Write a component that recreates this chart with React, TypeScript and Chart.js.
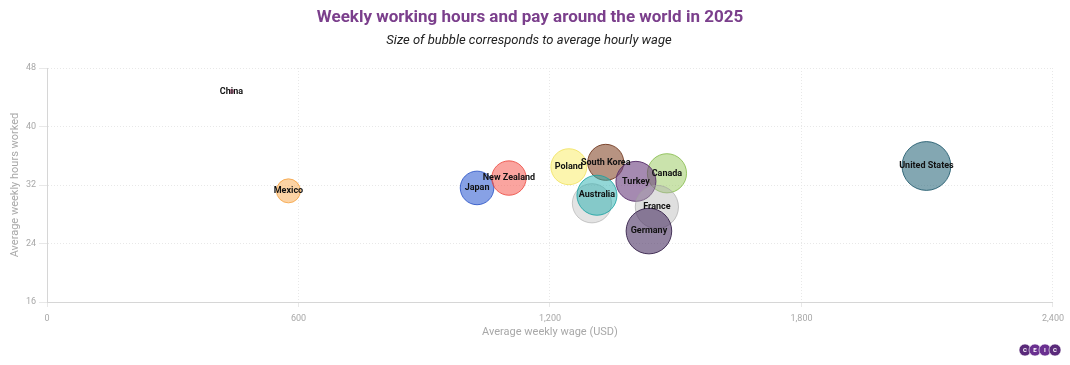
import React, { useEffect, useRef } from "react";
import { Chart, registerables } from "chart.js";
Chart.register(...registerables);

const titleText = "Weekly working hours and pay around the world in 2025";
const subtitleText = "Size of bubble corresponds to average hourly wage";
const xTitle = "Average weekly wage (USD)";
const yTitle = "Average weekly hours worked";

const countries = ["China", "Mexico", "Japan", "New Zealand", "Poland", "South Korea", "Canada", "Turkey", "", "Australia", "France", "Germany", "United States"];
const weeklyWage = [440, 576, 1026, 1102, 1245, 1333, 1479, 1405, 1300, 1312, 1455, 1436, 2098];
const weeklyHours = [44.8, 31.2, 31.6, 32.95, 34.5, 35.1, 33.6, 32.5, 29.5, 30.6, 29.0, 25.7, 34.6];
const hourlyWage = [5, 30, 42, 43, 45, 45, 49, 50, 49, 50, 54, 57, 61];

const xTicks = [0, 600, 1200, 1800, 2400];
const yTicks = [16, 24, 32, 40, 48];

const fills = [
  "rgba(200,60,120,0.4)",
  "rgba(250,175,90,0.55)",
  "rgba(70,110,215,0.65)",
  "rgba(245,90,80,0.55)",
  "rgba(250,238,120,0.6)",
  "rgba(135,75,45,0.6)",
  "rgba(150,200,90,0.5)",
  "rgba(105,60,125,0.6)",
  "rgba(185,185,185,0.4)",
  "rgba(40,175,175,0.5)",
  "rgba(175,175,175,0.4)",
  "rgba(75,50,100,0.6)",
  "rgba(30,95,115,0.55)",
];
const borders = [
  "rgba(200,60,120,0.6)",
  "rgba(245,160,60,0.8)",
  "rgba(50,90,200,0.9)",
  "rgba(235,70,60,0.8)",
  "rgba(240,225,90,0.8)",
  "rgba(115,60,35,0.9)",
  "rgba(130,185,70,0.8)",
  "rgba(85,45,105,0.9)",
  "rgba(170,170,170,0.6)",
  "rgba(20,160,160,0.8)",
  "rgba(160,160,160,0.6)",
  "rgba(55,35,75,0.9)",
  "rgba(20,80,100,0.8)",
];

const radiusPerUnit = 0.4;

const overlayPlugin = {
  id: "overlay",
  afterDatasetsDraw(chart: any) {
    const ctx = chart.ctx;
    const meta = chart.getDatasetMeta(0);
    ctx.save();
    ctx.font = "bold 9px Roboto";
    ctx.fillStyle = "#111";
    ctx.textAlign = "center";
    ctx.textBaseline = "middle";
    meta.data.forEach((el: any, i: number) => {
      if (countries[i]) ctx.fillText(countries[i], el.x, el.y);
    });
    ctx.restore();
  },
  afterDraw(chart: any) {
    const ctx = chart.ctx;
    ctx.save();
    ctx.textAlign = "center";
    ctx.textBaseline = "middle";
    ctx.font = "bold 17px Roboto";
    ctx.fillStyle = "#7b3f8c";
    ctx.fillText(titleText, 530, 18);
    ctx.font = "italic 13px Roboto";
    ctx.fillStyle = "#222";
    ctx.fillText(subtitleText, 529, 41);
    // logo
    const letters = ["C", "E", "I", "C"];
    const cols = ["#5a2a7a", "#6a3090", "#6a3090", "#5a2a7a"];
    letters.forEach((l, i) => {
      const cx = 1025 + i * 10;
      ctx.beginPath();
      ctx.arc(cx, 350, 6, 0, Math.PI * 2);
      ctx.fillStyle = cols[i];
      ctx.fill();
      ctx.strokeStyle = "#fff";
      ctx.lineWidth = 0.6;
      ctx.stroke();
    });
    ctx.font = "bold 6px Roboto";
    ctx.fillStyle = "#fff";
    letters.forEach((l, i) => {
      ctx.fillText(l, 1025 + i * 10, 350.5);
    });
    ctx.restore();
  },
};

export default function App() {
  const ref = useRef<HTMLCanvasElement | null>(null);
  useEffect(() => {
    document.body.style.margin = "0";
    const canvas = ref.current!;
    const chart = new Chart(canvas, {
      type: "bubble",
      data: {
        datasets: [
          {
            data: countries.map((c, i) => ({ x: weeklyWage[i], y: weeklyHours[i], r: hourlyWage[i] * radiusPerUnit })),
            backgroundColor: fills,
            borderColor: borders,
            borderWidth: 1,
          },
        ],
      },
      options: {
        responsive: false,
        animation: false,
        layout: { autoPadding: false, padding: { top: 68, right: 16, bottom: 22, left: 0 } },
        plugins: {
          legend: { display: false },
          tooltip: { enabled: false },
          title: { display: false },
        },
        scales: {
          x: {
            type: "linear",
            min: 0,
            max: 2400,
            afterBuildTicks: (s: any) => { s.ticks = xTicks.map((v) => ({ value: v })); },
            afterFit: (s: any) => { s.height = 41; },
            ticks: {
              font: { family: "Roboto", size: 9 },
              color: "#a8a8a8",
              padding: 6,
              maxRotation: 0,
              callback: (v: any) => Number(v).toLocaleString("en-US"),
            },
            grid: { color: "#e8e8e8", tickLength: 5, tickColor: "#e8e8e8" },
            border: { color: "#d6d6d6", dash: [1, 2] },
            title: { display: true, text: xTitle, font: { family: "Roboto", size: 11 }, color: "#a8a8a8", padding: 4 },
          },
          y: {
            type: "linear",
            min: 16,
            max: 48,
            afterBuildTicks: (s: any) => { s.ticks = yTicks.map((v) => ({ value: v })); },
            afterFit: (s: any) => { s.width = 47; },
            ticks: {
              font: { family: "Roboto", size: 9 },
              color: "#a8a8a8",
              padding: 3,
            },
            grid: { color: "#e8e8e8", tickLength: 8, tickColor: "#e8e8e8" },
            border: { color: "#d6d6d6", dash: [1, 2] },
            title: { display: true, text: yTitle, font: { family: "Roboto", size: 11 }, color: "#a8a8a8", padding: { top: 9, bottom: 0 } },
          },
        },
      },
      plugins: [overlayPlugin],
    } as any);
    return () => chart.destroy();
  }, []);
  return (
    <div style={{ width: 1070, height: 365 }}>
      <canvas ref={ref} width={1070} height={365} style={{ width: 1070, height: 365, display: "block" }} />
    </div>
  );
}
